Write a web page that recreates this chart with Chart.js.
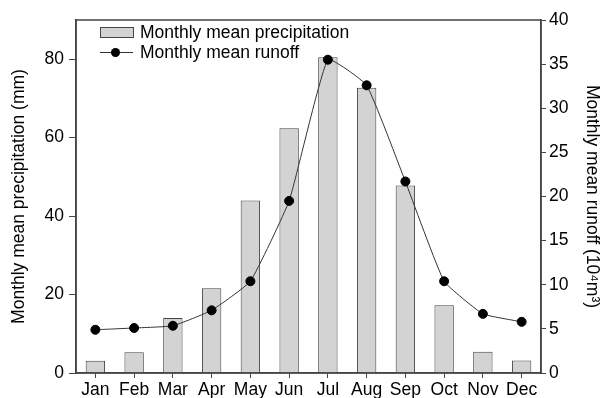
<!DOCTYPE html>
<html>
<head>
<meta charset="utf-8">
<script src="https://cdn.jsdelivr.net/npm/chart.js@4"></script>
<style>
  html, body { margin: 0; padding: 0; background: #fff; }
  #wrap { position: relative; width: 603px; height: 398px; }
  #legend { position: absolute; left: 99px; top: 22px; pointer-events: none;
    font-family: "Liberation Sans", Arial, sans-serif; font-size: 17.5px; color: #000; line-height: 20px; }
  .row { display: flex; align-items: center; }
  .sw { width: 34px; height: 20px; margin-right: 7px; position: relative; }
  .bar { position: absolute; left: 1px; top: 5px; width: 32px; height: 9px; background: #d3d3d3; border: 1px solid #444; }
  .ln { position: absolute; left: 1px; top: 10px; width: 33px; height: 1px; background: #333; }
  .dot { position: absolute; left: 12px; top: 6px; width: 9px; height: 9px; border-radius: 50%; background: #000; }
</style>
</head>
<body>
<div id="wrap">
  <canvas id="chart" width="603" height="398"></canvas>
  <div id="legend">
    <div class="row"><div class="sw"><div class="bar"></div></div>Monthly mean precipitation</div>
    <div class="row"><div class="sw"><div class="ln"></div><div class="dot"></div></div>Monthly mean runoff</div>
  </div>
</div>
<script>
const months = ["Jan", "Feb", "Mar", "Apr", "May", "Jun", "Jul", "Aug", "Sep", "Oct", "Nov", "Dec"];
const precipitation = [3.1, 5.3, 14.0, 21.6, 44.0, 62.4, 80.5, 72.7, 47.8, 17.3, 5.4, 3.2];
const runoff = [4.9, 5.1, 5.35, 7.1, 10.4, 19.5, 35.5, 32.6, 21.7, 10.4, 6.7, 5.8];

const font = { family: "'Liberation Sans', Arial, sans-serif", size: 17.5 };
const titleFont = { family: "'Liberation Sans', Arial, sans-serif", size: 17.5 };

// box round the plot area
const frame = {
  id: "frame",
  afterDraw(chart) {
    const a = chart.chartArea, c = chart.ctx;
    c.save();
    c.strokeStyle = "#444";
    c.lineWidth = 1.5;
    c.strokeRect(a.left, a.top, a.right - a.left, a.bottom - a.top);
    c.restore();
  }
};

new Chart(document.getElementById("chart"), {
  type: "bar",
  data: {
    labels: months,
    datasets: [{
      type: "line",
      label: "Monthly mean runoff",
      data: runoff,
      yAxisID: "y2",
      borderColor: "#333",
      borderWidth: 1,
      tension: 0.12,
      pointRadius: 4.5,
      pointBackgroundColor: "#000",
      pointBorderColor: "#000",
      order: 0
    }, {
      label: "Monthly mean precipitation",
      data: precipitation,
      yAxisID: "y",
      backgroundColor: "#d3d3d3",
      borderColor: "#444",
      borderWidth: 1,
      barPercentage: 0.5,
      categoryPercentage: 1,
      order: 1
    }]
  },
  options: {
    responsive: false,
    animation: false,
    layout: { padding: { top: 20, left: 0, right: 0, bottom: 0 } },
    plugins: { legend: { display: false }, tooltip: { enabled: false } },
    scales: {
      x: {
        offset: true,
        grid: { display: true, drawOnChartArea: false, drawTicks: true, tickLength: 5, offset: false, color: "#444" },
        border: { color: "#444", width: 1.5 },
        ticks: { color: "#000", font: font, padding: 2, maxRotation: 0, autoSkip: false },
        afterFit(s) { s.height = 25; }
      },
      y: {
        position: "left",
        min: 0, max: 90,
        afterBuildTicks(s) { s.ticks = [0, 20, 40, 60, 80].map(v => ({ value: v })); },
        grid: { display: true, drawOnChartArea: false, drawTicks: true, tickLength: 7, color: "#444" },
        border: { color: "#444", width: 1.5 },
        ticks: { color: "#000", font: font, padding: 5 },
        title: { display: true, text: "Monthly mean precipitation (mm)", color: "#000",
          font: titleFont, padding: { top: 9, bottom: 0 } },
        afterFit(s) { s.width = 76; }
      },
      y2: {
        position: "right",
        min: 0, max: 40,
        grid: { display: true, drawOnChartArea: false, drawTicks: true, tickLength: 5, color: "#444" },
        border: { color: "#444", width: 1.5 },
        ticks: { color: "#000", font: font, padding: 3, stepSize: 5 },
        title: { display: true, text: "Monthly mean runoff (10\u2074m\u00b3)", color: "#000",
          font: titleFont, padding: { top: 1, bottom: 0 } },
        afterFit(s) { s.width = 62; }
      }
    }
  },
  plugins: [frame]
});
</script>
</body>
</html>
